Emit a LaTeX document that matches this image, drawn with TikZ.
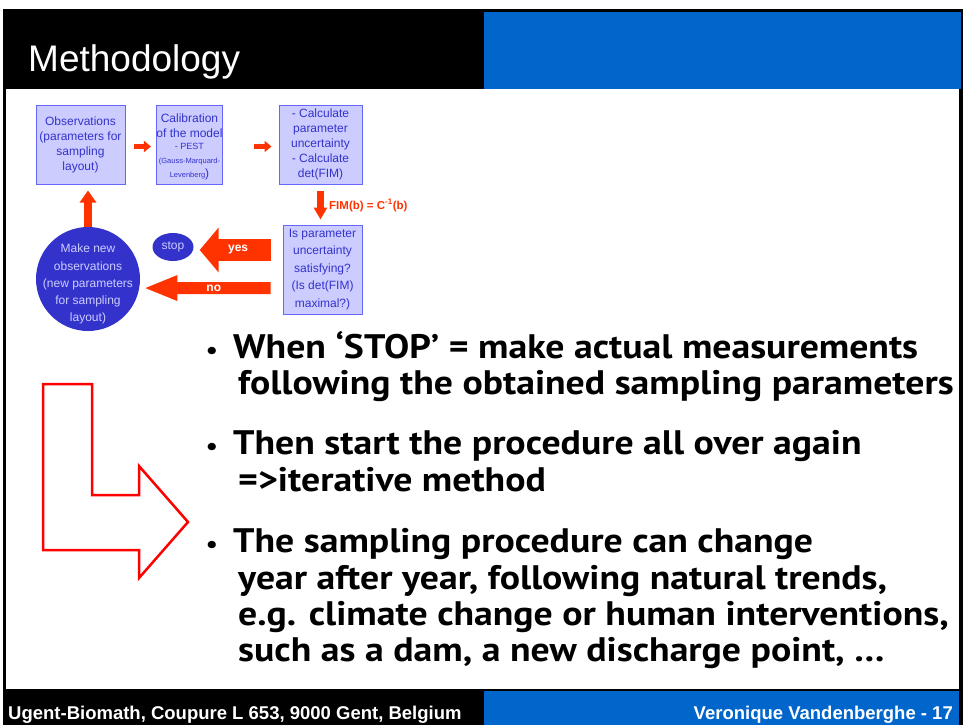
\documentclass[tikz,border=0pt]{standalone}
\usepackage{fontspec}
\setmainfont{Liberation Sans}
\newfontfamily\bulletfont{PT Sans}[FakeStretch=1.11]
\usetikzlibrary{arrows.meta,calc,shapes.geometric}

\definecolor{hdrblue}{HTML}{0066CC}
\definecolor{boxfill}{HTML}{CCCCFF}
\definecolor{boxline}{HTML}{6666FF}
\definecolor{boxtext}{HTML}{3333CC}
\definecolor{circfill}{HTML}{3333CC}
\definecolor{circtext}{HTML}{CCCCFF}
\definecolor{flowred}{HTML}{FF3300}

\tikzset{
  stepbox/.style={draw=boxline, fill=boxfill, line width=1pt, text=boxtext,
    align=center, inner sep=0pt, font=\fontsize{12}{15}\selectfont},
  bluedisc/.style={fill=circfill, inner sep=0pt, text=circtext, align=center},
  thinflow/.style={draw=flowred, line width=5pt, -{Triangle[width=11pt,length=7pt]}},
  downflow/.style={draw=flowred, line width=7pt, -{Triangle[width=13pt,length=12pt]}},
  upflow/.style={draw=flowred, line width=8pt, -{Triangle[width=16pt,length=12pt]}},
  yesflow/.style={draw=flowred, line width=22pt, -{Triangle[width=44pt,length=19pt]}},
  noflow/.style={draw=flowred, line width=12pt, -{Triangle[width=23pt,length=34pt]}},
  flowlabel/.style={text=white, inner sep=0pt, font=\bfseries\fontsize{12}{14}\selectfont},
  bullettext/.style={anchor=base west, inner sep=0pt, font=\bulletfont\bfseries\fontsize{34}{40}\selectfont},
  bulletdot/.style={anchor=base, inner sep=0pt, font=\bulletfont\bfseries\fontsize{24}{30}\selectfont},
  footertext/.style={text=white, inner sep=0pt, font=\bfseries\fontsize{18.5}{20}\selectfont}
}

\begin{document}
\begin{tikzpicture}[x=1pt,y=-1pt]
\useasboundingbox (0,0) rectangle (964,725);
% slide frame, header and footer bands
\fill[white] (0,0) rectangle (964,725);
\fill[black] (3,9) rectangle (963,725);
\fill[white] (6,89) rectangle (959,689);
\fill[hdrblue] (484,12) rectangle (961,89);
\fill[hdrblue] (484,691) rectangle (959,725);

\node[anchor=base west, text=white, inner sep=0pt, font=\fontsize{37}{40}\selectfont] (title) at (28,72) {Methodology};
\node[footertext, anchor=base west] (address) at (8,719) {Ugent-Biomath, Coupure L 653, 9000 Gent, Belgium};
\node[footertext, anchor=base east] (author) at (953,719) {Veronique Vandenberghe - 17};

% flow chart
\node[stepbox, minimum width=89pt, minimum height=79pt] (box1) at (80.5,144.5)
  {Observations\\(parameters for\\sampling\\layout)};
\node[stepbox, minimum width=61pt, minimum height=79pt] (box2) at (189.5,144.5)
  {\rule{0pt}{14pt}Calibration\\of the model\\[-3pt]{\fontsize{9}{10}\selectfont - PEST}\\[-1pt]{\fontsize{7.5}{10}\selectfont (Gauss-Marquard-}\\[-1pt]{\fontsize{7.5}{10}\selectfont Levenberg})};
\node[stepbox, minimum width=83pt, minimum height=79pt] (box3) at (320.5,144.5)
  {- Calculate\\parameter\\uncertainty\\- Calculate\\det(FIM)};
\node[stepbox, minimum width=79pt, minimum height=89pt, font=\fontsize{12}{17.5}\selectfont] (box4) at (322.5,269.5)
  {Is parameter\\uncertainty\\satisfying?\\(Is det(FIM)\\maximal?)};
\node[bluedisc, circle, inner sep=-16pt, minimum size=104pt, font=\fontsize{12}{17.2}\selectfont] (circ) at (88,279)
  {\rule{0pt}{19pt}Make new\\observations\\(new parameters\\for sampling\\layout)};
\node[bluedisc, ellipse, minimum width=41pt, minimum height=28pt, font=\fontsize{12}{14}\selectfont] (stop) at (173,247) {stop};

\draw[thinflow, shorten <=8pt, shorten >=5pt] ($(box1.east)+(0,2)$) -- ($(box2.west)+(0,2)$);
\draw[thinflow, shorten <=31pt, shorten >=7pt] ($(box2.east)+(0,2)$) -- ($(box3.west)+(0,2)$);
\draw[downflow, shorten <=6pt, shorten >=5pt] (box3.south) -- (box3.south |- box4.north);
\node[anchor=west, text=flowred, inner sep=0pt, font=\bfseries\fontsize{11.5}{13}\selectfont] (fimlabel)
  at ($(box3.south)+(8.5,21)$) {FIM(b) = C\textsuperscript{-1}(b)};

\coordinate (yesfrom) at ($(box4.west)+(0,-19.5)$);
\draw[yesflow, shorten <=12pt, shorten >=6pt] (yesfrom) -- (stop.east |- yesfrom)
  node[flowlabel, midway] (yeslabel) {yes};
\coordinate (nofrom) at ($(box4.west)+(0,18.5)$);
\draw[noflow, shorten <=12pt, shorten >=4pt] (nofrom) -- (circ.-10)
  node[flowlabel, pos=0.48] (nolabel) {no};
\draw[upflow, shorten >=6pt] (circ.north) -- (circ.north |- box1.south);

% hollow L-shaped arrow
\draw[red, line width=2.5pt, line join=miter]
  (43,384) -- (92,384) -- (92,495) -- (139,495) -- (139,466) -- (188,522)
  -- (139,578) -- (139,550) -- (43,550) -- cycle;

% bullet list
\node[bulletdot] (dot1) at (212,358) {•};
\node[bullettext] (l1) at (233,358) {When ‘STOP’ = make actual measurements};
\node[bullettext] (l2) at (238,394) {following the obtained sampling parameters};
\node[bulletdot] (dot2) at (212,454) {•};
\node[bullettext] (l3) at (233,454) {Then start the procedure all over again};
\node[bullettext] (l4) at (238,491) {=>iterative method};
\node[bulletdot] (dot3) at (212,552) {•};
\node[bullettext] (l5) at (233,552) {The sampling procedure can change};
\node[bullettext] (l6) at (238,589) {year after year, following natural trends,};
\node[bullettext] (l7) at (238,625) {e.g. climate change or human interventions,};
\node[bullettext] (l8) at (238,661) {such as a dam, a new discharge point, …};
\end{tikzpicture}
\end{document}
